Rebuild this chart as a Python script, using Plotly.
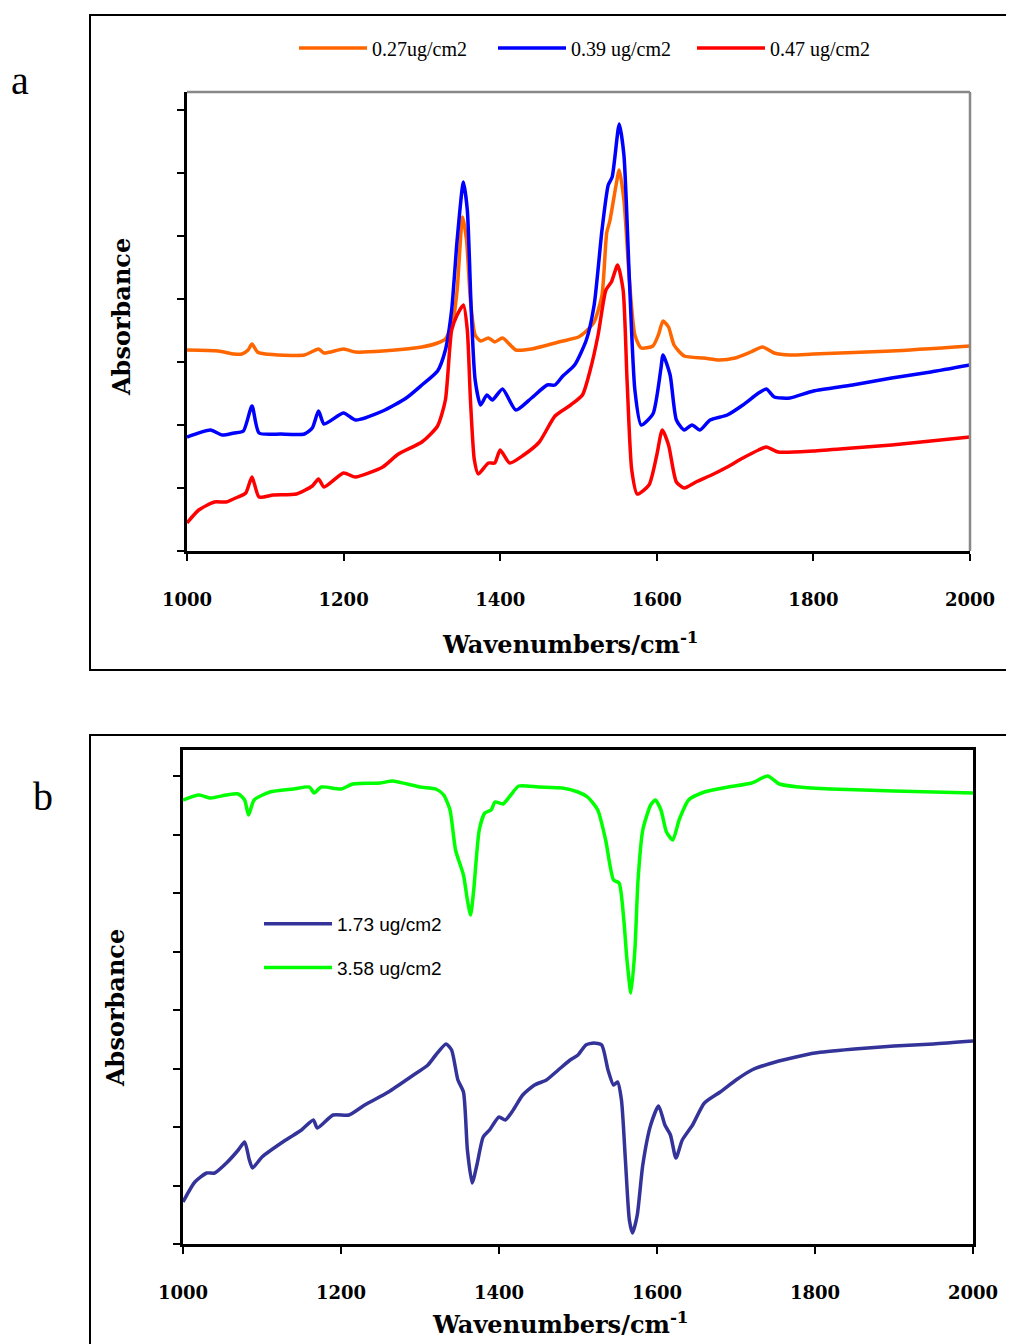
import plotly.graph_objects as go

# ---------------- Panel a (absorbance, arbitrary units) ----------------
a_x_027 = [1000,1040,1060,1070,1078,1083,1090,1100,1150,1168,1175,1200,1215,1250,1300,1320,1330,1340,1345,1352,1357,1362,1368,1375,1385,1393,1403,1420,1440,1480,1500,1510,1520,1530,1536,1540,1548,1552,1558,1565,1572,1580,1595,1602,1608,1615,1622,1635,1660,1680,1700,1720,1735,1750,1770,1800,1900,2000]
a_y_027 = [2.01,2.00,1.97,1.97,2.01,2.07,1.99,1.97,1.96,2.02,1.98,2.02,1.99,2.00,2.04,2.08,2.12,2.31,2.61,3.34,3.11,2.51,2.16,2.10,2.13,2.09,2.13,2.01,2.02,2.10,2.14,2.20,2.29,2.56,3.18,3.30,3.66,3.81,3.51,2.71,2.16,2.03,2.05,2.16,2.30,2.24,2.06,1.95,1.93,1.91,1.93,1.99,2.04,1.98,1.96,1.97,2.00,2.05]

a_x_039 = [1000,1030,1045,1060,1072,1083,1092,1120,1150,1160,1168,1175,1200,1215,1250,1280,1300,1320,1330,1338,1345,1353,1358,1363,1368,1375,1383,1390,1403,1420,1440,1460,1470,1480,1495,1510,1520,1530,1538,1543,1552,1558,1565,1572,1580,1595,1605,1608,1617,1625,1635,1645,1655,1668,1690,1710,1730,1740,1750,1770,1800,1850,1900,1950,2000]
a_y_039 = [1.14,1.21,1.16,1.18,1.20,1.45,1.18,1.17,1.17,1.23,1.40,1.27,1.38,1.31,1.40,1.53,1.66,1.80,2.01,2.41,3.11,3.69,3.41,2.41,1.71,1.46,1.56,1.51,1.62,1.41,1.53,1.66,1.66,1.75,1.86,2.11,2.46,3.21,3.66,3.74,4.27,3.96,2.71,1.61,1.26,1.37,1.81,1.96,1.76,1.31,1.21,1.26,1.21,1.31,1.36,1.46,1.58,1.62,1.54,1.53,1.60,1.66,1.73,1.79,1.86]

a_x_047 = [1000,1015,1035,1050,1065,1075,1083,1092,1110,1140,1160,1168,1175,1200,1215,1250,1270,1300,1320,1330,1338,1345,1353,1358,1362,1367,1372,1385,1393,1400,1412,1430,1450,1470,1490,1505,1515,1525,1535,1542,1550,1557,1562,1568,1575,1590,1600,1607,1615,1625,1635,1650,1670,1690,1710,1730,1740,1755,1800,1850,1900,1950,2000]
a_y_047 = [0.28,0.41,0.49,0.49,0.54,0.58,0.74,0.54,0.56,0.57,0.65,0.72,0.64,0.78,0.74,0.84,0.97,1.09,1.25,1.51,2.21,2.36,2.46,2.21,1.51,0.91,0.77,0.88,0.88,1.01,0.88,0.96,1.09,1.35,1.46,1.56,1.81,2.16,2.61,2.69,2.86,2.61,1.71,0.81,0.57,0.66,0.96,1.21,1.06,0.69,0.63,0.69,0.76,0.84,0.93,1.01,1.04,0.99,1.00,1.03,1.06,1.10,1.14]

# ---------------- Panel b ----------------
b_x_173 = [1000,1015,1030,1040,1055,1070,1078,1084,1088,1100,1130,1150,1165,1170,1190,1210,1230,1260,1290,1310,1320,1333,1340,1348,1355,1360,1366,1372,1380,1388,1400,1408,1418,1430,1445,1460,1475,1490,1500,1510,1520,1530,1538,1545,1550,1555,1560,1565,1569,1575,1582,1592,1602,1610,1617,1624,1632,1645,1660,1680,1700,1720,1750,1800,1850,1900,1950,2000]
b_y_173 = [0.42,0.62,0.71,0.71,0.81,0.94,1.02,0.84,0.76,0.87,1.04,1.14,1.24,1.16,1.29,1.29,1.39,1.52,1.68,1.79,1.89,2.00,1.94,1.64,1.52,0.94,0.61,0.79,1.07,1.14,1.27,1.24,1.34,1.49,1.59,1.64,1.74,1.84,1.89,1.99,2.01,1.99,1.74,1.59,1.62,1.44,0.84,0.24,0.11,0.29,0.79,1.19,1.38,1.19,1.09,0.86,1.04,1.19,1.41,1.52,1.64,1.74,1.82,1.91,1.95,1.98,2.00,2.03]

b_x_358 = [1000,1020,1035,1055,1070,1078,1083,1090,1110,1140,1160,1166,1175,1200,1215,1250,1265,1300,1320,1330,1338,1345,1355,1360,1364,1368,1375,1382,1390,1395,1405,1415,1425,1450,1480,1500,1512,1525,1535,1545,1552,1558,1562,1567,1572,1576,1582,1592,1598,1605,1612,1620,1628,1640,1660,1690,1720,1740,1755,1780,1820,1900,2000]
b_y_358 = [4.44,4.49,4.46,4.49,4.50,4.44,4.29,4.44,4.52,4.55,4.57,4.51,4.57,4.55,4.60,4.61,4.63,4.57,4.55,4.49,4.34,3.94,3.69,3.44,3.29,3.54,4.14,4.31,4.34,4.42,4.40,4.49,4.58,4.57,4.56,4.52,4.47,4.34,4.04,3.64,3.61,3.24,2.84,2.51,2.94,3.64,4.14,4.39,4.44,4.34,4.12,4.04,4.24,4.44,4.52,4.57,4.61,4.68,4.60,4.57,4.55,4.53,4.51]

x_ticks = [1000, 1200, 1400, 1600, 1800, 2000]
a_names = ["0.27ug/cm2", "0.39 ug/cm2", "0.47 ug/cm2"]
b_names = ["1.73 ug/cm2", "3.58 ug/cm2"]

W, H = 1014, 1344
OFF = 8  # page body margin compensation
def px(x): return (x - OFF) / W
def py(y): return 1 - (y - OFF) / H

fig = go.Figure()
line_kw = dict(shape="spline", smoothing=0.6, width=3.5)

fig.add_trace(go.Scatter(x=a_x_027, y=a_y_027, name=a_names[0], mode="lines",
                         line=dict(color="#FF6600", **line_kw), xaxis="x", yaxis="y", legend="legend"))
fig.add_trace(go.Scatter(x=a_x_039, y=a_y_039, name=a_names[1], mode="lines",
                         line=dict(color="#0000FF", **line_kw), xaxis="x", yaxis="y", legend="legend"))
fig.add_trace(go.Scatter(x=a_x_047, y=a_y_047, name=a_names[2], mode="lines",
                         line=dict(color="#FF0000", **line_kw), xaxis="x", yaxis="y", legend="legend"))
fig.add_trace(go.Scatter(x=b_x_173, y=b_y_173, name=b_names[0], mode="lines", legendgroup="g1",
                         line=dict(color="#333399", **line_kw), xaxis="x2", yaxis="y2", legend="legend2"))
fig.add_trace(go.Scatter(x=b_x_358, y=b_y_358, name=b_names[1], mode="lines", legendgroup="g2",
                         line=dict(color="#00FF00", **line_kw), xaxis="x2", yaxis="y2", legend="legend2"))

tickfont = dict(family="DejaVu Serif", size=18, color="black", weight="bold")
common_x = dict(range=[1000, 2000], tickmode="array", tickvals=x_ticks, ticktext=[str(v) for v in x_ticks],
                showline=True, linecolor="black", linewidth=2.5, ticks="outside", ticklen=7, tickwidth=2,
                tickcolor="black", showgrid=False, zeroline=False, tickfont=tickfont,
                ticklabelstandoff=24, automargin=False)
common_y = dict(showline=True, linecolor="black", linewidth=2.5, ticks="outside", ticklen=7, tickwidth=2,
                tickcolor="black", showgrid=False, zeroline=False, showticklabels=False, tick0=0,
                automargin=False)

fig.update_layout(
    width=W, height=H, margin=dict(l=0, r=0, t=0, b=0, autoexpand=False),
    paper_bgcolor="white", plot_bgcolor="white",
    xaxis=dict(domain=[px(187), px(970)], anchor="y", **common_x),
    yaxis=dict(domain=[py(551), py(92)], anchor="x", range=[0, 4.59], dtick=0.63, **common_y),
    xaxis2=dict(domain=[px(183), px(973)], anchor="y2", mirror=True, **common_x),
    yaxis2=dict(domain=[py(1244), py(750)], anchor="x2", range=[0, 4.94], dtick=0.585, mirror=True, **common_y),
    legend=dict(orientation="h", x=px(294), y=py(48), xanchor="left", yanchor="middle",
                font=dict(family="Liberation Serif", size=20, color="black"),
                itemwidth=68, entrywidth=116, bgcolor="rgba(0,0,0,0)", borderwidth=0),
    legend2=dict(orientation="v", x=px(259), y=py(946), xanchor="left", yanchor="middle",
                 font=dict(family="Liberation Sans", size=19, color="black"),
                 itemwidth=68, tracegroupgap=16, bgcolor="rgba(0,0,0,0)", borderwidth=0),
    showlegend=True,
)

# gray top/right frame of panel a
fig.add_shape(type="line", xref="x domain", yref="y domain", x0=0, x1=1, y0=1, y1=1,
              line=dict(color="#888888", width=2.5))
fig.add_shape(type="line", xref="x domain", yref="y domain", x0=1, x1=1, y0=0, y1=1,
              line=dict(color="#888888", width=2.5))
# outer boxes
fig.add_shape(type="rect", xref="paper", yref="paper", x0=px(90), x1=px(1040), y0=py(670), y1=py(15),
              line=dict(color="black", width=2), layer="below")
fig.add_shape(type="rect", xref="paper", yref="paper", x0=px(90), x1=px(1040), y0=py(1370), y1=py(735),
              line=dict(color="black", width=2), layer="below")

titlefont = dict(family="DejaVu Serif", size=24, color="black", weight="bold")
ann = [
    dict(text="a", x=px(20), y=py(80), font=dict(family="Liberation Serif", size=40, color="black")),
    dict(text="b", x=px(43), y=py(796), font=dict(family="Liberation Serif", size=40, color="black")),
    dict(text="Wavenumbers/cm<sup>-1</sup>", x=px(570), y=py(643), font=titlefont),
    dict(text="Wavenumbers/cm<sup>-1</sup>", x=px(560), y=py(1323), font=titlefont),
    dict(text="Absorbance", x=px(121), y=py(317), textangle=-90, font=titlefont),
    dict(text="Absorbance", x=px(115), y=py(1008), textangle=-90, font=titlefont),
]
for a in ann:
    fig.add_annotation(xref="paper", yref="paper", showarrow=False, xanchor="center", yanchor="middle", **a)

fig.write_html("out.html")
